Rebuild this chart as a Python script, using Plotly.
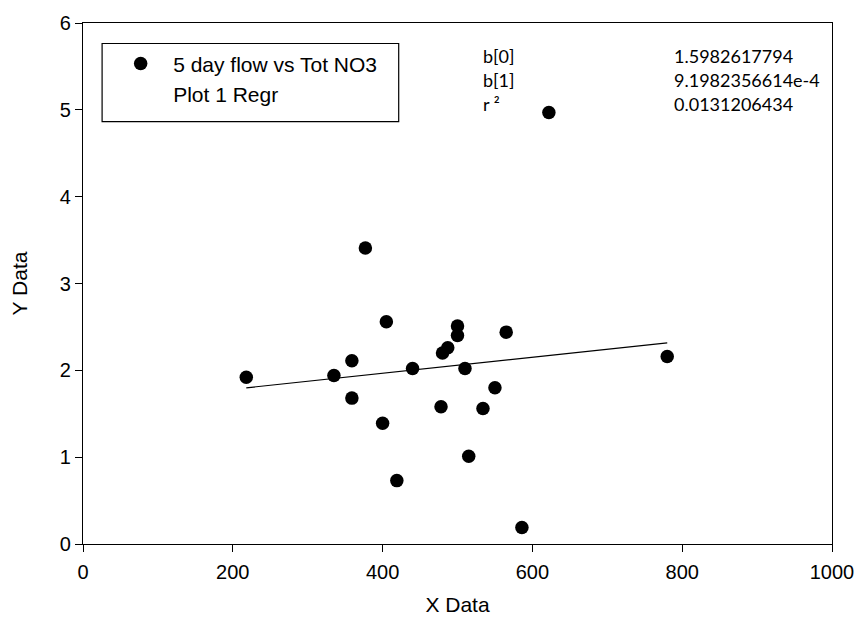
import plotly.graph_objects as go

# Data
x_data = [218, 335, 359, 359, 377, 400, 405, 419, 440, 478, 480, 487,
          500, 500, 510, 515, 534, 550, 565, 586, 622, 780]
y_data = [1.92, 1.94, 2.11, 1.68, 3.41, 1.39, 2.56, 0.73, 2.02, 1.58, 2.20, 2.26,
          2.51, 2.40, 2.02, 1.01, 1.56, 1.80, 2.44, 0.19, 4.97, 2.16]

b0 = 1.5982617794
b1 = 9.1982356614e-4
r2 = 0.0131206434

stat_labels = ["b[0]", "b[1]", "r ²"]
stat_values = ["1.5982617794", "9.1982356614e-4", "0.0131206434"]

x_ticks = [0, 200, 400, 600, 800, 1000]
y_ticks = [0, 1, 2, 3, 4, 5, 6]

reg_x = [min(x_data), max(x_data)]
reg_y = [b0 + b1 * v for v in reg_x]

fig = go.Figure()
fig.add_trace(go.Scatter(
    x=x_data, y=y_data, mode="markers", name="5 day flow vs Tot NO3",
    marker=dict(color="black", size=13.5, line=dict(width=0)),
))
fig.add_trace(go.Scatter(
    x=reg_x, y=reg_y, mode="lines", name="Plot 1 Regr", showlegend=False,
    line=dict(color="black", width=1.2),
))
fig.add_trace(go.Scatter(
    x=[None], y=[None], mode="markers", name="Plot 1 Regr",
    marker=dict(color="rgba(0,0,0,0)", size=13),
))

row_y = [0.936, 0.8905, 0.845]
for lab, val, yy in zip(stat_labels, stat_values, row_y):
    fig.add_annotation(x=0.5314, y=yy, xref="paper", yref="paper", text=lab,
                       showarrow=False, xanchor="left", yanchor="middle",
                       font=dict(family="Lato", size=18, color="black"))
    fig.add_annotation(x=0.7863, y=yy, xref="paper", yref="paper", text=val,
                       showarrow=False, xanchor="left", yanchor="middle",
                       font=dict(family="Lato", size=18, color="black"))

# legend frame
fig.add_shape(type="rect", xref="paper", yref="paper",
              x0=0.0255, x1=0.4215, y0=0.8108, y1=0.9607,
              line=dict(color="black", width=1.2), fillcolor="rgba(0,0,0,0)")

axis_common = dict(
    showline=True, linecolor="black", linewidth=1.3, mirror=True,
    ticks="outside", ticklen=7, tickwidth=1.3, tickcolor="black",
    showgrid=False, zeroline=False,
    tickfont=dict(family="Liberation Sans, Arial", size=20, color="black"),
)

fig.update_layout(
    width=866, height=631,
    margin=dict(l=83, r=30, t=17, b=87),
    paper_bgcolor="white", plot_bgcolor="white",
    font=dict(family="Liberation Sans, Arial", color="black"),
    xaxis=dict(range=[0, 1000], tickvals=x_ticks, ticklabelstandoff=3,
               title=dict(text="X Data", font=dict(size=21), standoff=15),
               **axis_common),
    yaxis=dict(range=[0, 6], tickvals=y_ticks,
               title=dict(text="Y Data", font=dict(size=21), standoff=26),
               **axis_common),
    legend=dict(x=0.0336, y=0.961, xanchor="left", yanchor="top",
                borderwidth=0, bgcolor="rgba(0,0,0,0)",
                font=dict(family="Liberation Sans, Arial", size=21),
                itemwidth=55, tracegroupgap=0),
    showlegend=True,
)

fig.write_html("out.html")
